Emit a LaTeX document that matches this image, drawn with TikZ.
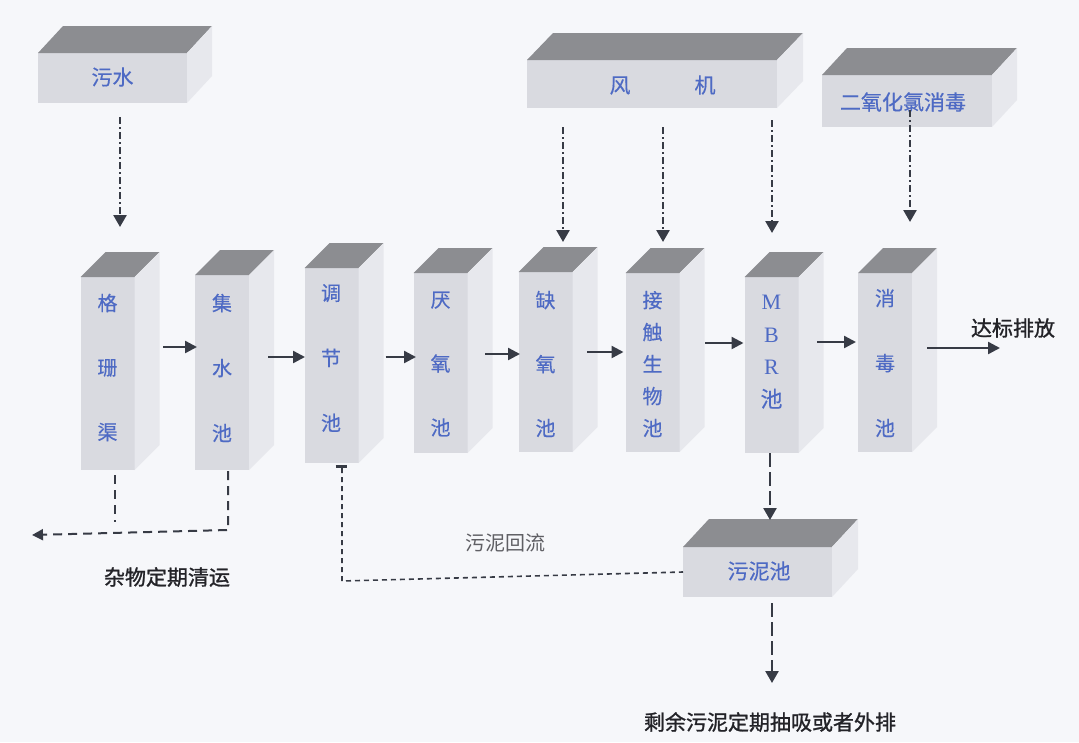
\documentclass[tikz,border=0pt]{standalone}
\usepackage{fontspec}
\setmainfont{Liberation Serif}
\newfontfamily\cjk[FakeBold=0.4]{Noto Sans CJK SC}
\newfontfamily\cjkn{Noto Sans CJK SC}
\newfontfamily\cjkb[FakeBold=1.2]{Noto Sans CJK SC}
\usetikzlibrary{arrows.meta,calc}
\definecolor{bg}{RGB}{246,247,250}
\definecolor{frontc}{RGB}{217,218,224}
\definecolor{topc}{RGB}{140,141,145}
\definecolor{sidec}{RGB}{231,232,237}
\definecolor{bluet}{RGB}{78,106,196}
\definecolor{arr}{RGB}{55,59,69}
\definecolor{labc}{RGB}{35,35,40}
\definecolor{glabc}{RGB}{95,95,100}
\newcommand\mycub[7]{%
  \node[front, minimum width=#4pt, minimum height=#5pt] (#1) at (#2,#3) {};
  \fill[topface] (#1.north west) -- ++(#6,-#7) -- ++(#4,0) -- (#1.north east) -- cycle;
  \fill[sideface] (#1.north east) -- ++(#6,-#7) -- ++(0,#5) -- (#1.south east) -- cycle;
}
\begin{document}
\begin{tikzpicture}[x=1pt,y=-1pt,
  front/.style={fill=frontc, inner sep=0pt, outer sep=0pt},
  topface/.style={fill=topc},
  sideface/.style={fill=sidec},
  boxtext/.style={text=bluet, font=\cjk\fontsize{21}{24}\selectfont, inner sep=0pt},
  tanktext/.style={text=bluet, align=center, inner sep=0pt},
  lab/.style={text=labc, font=\cjkb\fontsize{21}{24}\selectfont, inner sep=0pt},
  glab/.style={text=glabc, font=\cjkn\fontsize{20}{24}\selectfont, inner sep=0pt},
  ddarrow/.style={draw=arr, line width=2.5pt, dash pattern=on 7pt off 3pt on 2pt off 3pt, -{Triangle[width=13pt,length=12pt]}},
  flow/.style={draw=arr, line width=2.4pt, -{Triangle[width=12pt,length=12pt]}},
  trash/.style={draw=arr, line width=2pt, dash pattern=on 9pt off 6pt},
  retline/.style={draw=arr, line width=1.6pt, dash pattern=on 5pt off 4pt},
  sludge/.style={draw=arr, line width=2.5pt, dash pattern=on 14pt off 5pt, -{Triangle[width=13pt,length=12pt]}}
]
\fill[bg] (0,0) rectangle (1079,742);
\useasboundingbox (0,0) rectangle (1079,742);

% top boxes
\mycub{ws}{112.5}{78}{149}{50}{25}{27}
\node[boxtext] (wst) at (112.5,77) {污水};
\mycub{fan}{652}{84}{250}{48}{26}{27}
\node[boxtext] (fant) at (662.5,85) {风\hspace{64pt}机};
\mycub{clo}{907}{101}{170}{52}{25}{27}
\node[boxtext] (clot) at (903,102) {二氧化氯消毒};

% tanks
\mycub{g1}{107.5}{373.5}{54}{193}{25}{25}
\mycub{g2}{222}{372.5}{54}{195}{25}{25}
\mycub{g3}{331.5}{365.5}{54}{195}{25}{25}
\mycub{g4}{440.5}{363}{54}{180}{25}{25}
\mycub{g5}{545.5}{362}{54}{180}{25}{25}
\mycub{g6}{652.5}{362.5}{54}{179}{25}{25}
\mycub{g7}{771.5}{365}{54}{176}{25}{25}
\mycub{g8}{885}{362.5}{54}{179}{25}{25}

\node[tanktext, font=\cjk\fontsize{20}{64.5}\selectfont] (g1t) at (107.5,367.5) {格\\珊\\渠};
\node[tanktext, font=\cjk\fontsize{20}{65}\selectfont] (g2t) at (222,368) {集\\水\\池};
\node[tanktext, font=\cjk\fontsize{20}{65}\selectfont] (g3t) at (331,358) {调\\节\\池};
\node[tanktext, font=\cjk\fontsize{20}{64}\selectfont] (g4t) at (440.5,364) {厌\\氧\\池};
\node[tanktext, font=\cjk\fontsize{20}{64}\selectfont] (g5t) at (545.5,364) {缺\\氧\\池};
\node[tanktext, font=\cjk\fontsize{20}{32}\selectfont] (g6t) at (652.5,364) {接\\触\\生\\物\\池};
\node[tanktext, font=\fontsize{22}{32.5}\selectfont] (g7t) at (771.5,352) {M\\B\\R\\{\cjk 池}};
\node[tanktext, font=\cjk\fontsize{20}{65}\selectfont] (g8t) at (885,363) {消\\毒\\池};

% sludge tank
\mycub{sl}{757.5}{572}{149}{50}{26}{28}
\node[boxtext] (slt) at (759,571) {污泥池};

% labels
\node[lab] (db) at (1013,328) {达标排放};
\node[lab] (zw) at (167,577) {杂物定期清运};
\node[lab] (rs) at (770,722) {剩余污泥定期抽吸或者外排};
\node[glab] (hl) at (505,543) {污泥回流};

\coordinate (out) at (1000,348);
\coordinate (junk) at (32,535);
\coordinate (rsend) at (772,683);

% dash-dot feed arrows
\draw[ddarrow] ($(ws.south)+(7.5,14)$) -- ($(g1.north)+(12.5,-50)$);
\draw[ddarrow] ($(fan.south)+(-89,19)$) -- ($(g5.north)+(17.5,-30)$);
\draw[ddarrow] ($(fan.south)+(11,19)$) -- ($(g6.north)+(10.5,-31)$);
\draw[ddarrow] ($(fan.south)+(120,12)$) -- ($(g7.north)+(0.5,-44)$);
\draw[ddarrow] ($(clo.south)+(3,-17)$) -- ($(g8.north)+(25,-51)$);

% main flow arrows
\draw[flow] ($(g1.east)+(28.5,-26.5)$) -- ($(g2.west)+(2,-25.5)$);
\draw[flow] ($(g2.east)+(19,-15.5)$) -- ($(g3.west)+(0.5,-8.5)$);
\draw[flow] ($(g3.east)+(27,-8.5)$) -- ($(g4.west)+(2.5,-6)$);
\draw[flow] ($(g4.east)+(17.5,-9)$) -- ($(g5.west)+(1.5,-8)$);
\draw[flow] ($(g5.east)+(14.5,-10)$) -- ($(g6.west)+(-2,-10.5)$);
\draw[flow] ($(g6.east)+(25.5,-19.5)$) -- ($(g7.west)+(-1,-22)$);
\draw[flow] ($(g7.east)+(18.5,-23)$) -- ($(g8.west)+(-2,-20.5)$);
\draw[flow] ($(g8.east)+(15,-14.5)$) -- (out);

% screenings removal
\draw[trash] ($(g1.south)+(7.5,5)$) -- ($(g1.south)+(7.5,52)$);
\draw[trash, -{Triangle[width=11pt,length=11pt]}] ($(g2.south)+(6,1)$) -- ($(g2.south)+(6,60)$) -- (junk);

% sludge return
\draw[draw=arr, line width=3pt] ($(g3.south)+(4,3)$) -- ($(g3.south)+(15,3)$);
\draw[retline] ($(g3.south)+(10.5,5)$) -- ($(g3.south)+(10.5,118)$) -- (sl.west);

% sludge flows
\draw[sludge] ($(g7.south)+(-1.5,0)$) -- ($(sl.north)+(12.5,-27)$);
\draw[sludge] ($(sl.south)+(14.5,6)$) -- (rsend);
\end{tikzpicture}
\end{document}
